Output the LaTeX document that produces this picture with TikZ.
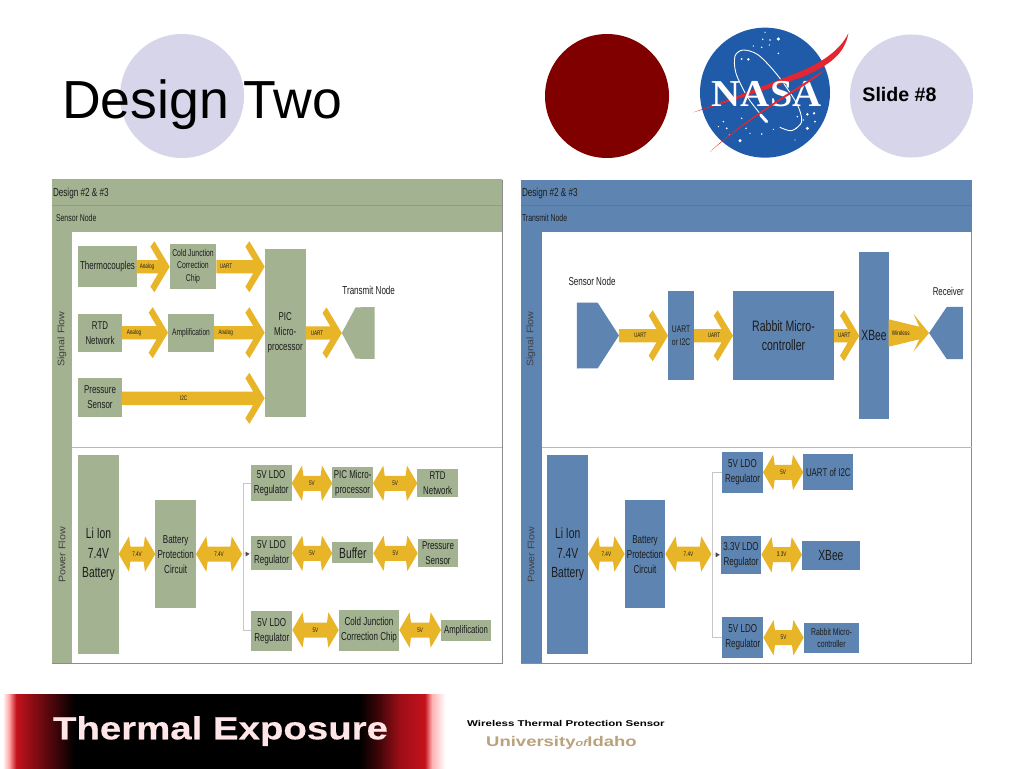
\documentclass[tikz,border=0pt]{standalone}
\usepackage{fontspec}
\usetikzlibrary{calc,arrows.meta}
\setmainfont{Liberation Sans}
\newfontfamily\nf[FakeStretch=0.70]{Liberation Sans}
\newfontfamily\wf[FakeStretch=1.12]{Liberation Sans}
\newfontfamily\bannerf[FakeStretch=1.2,BoldFeatures={FakeBold=0.4}]{Liberation Sans}
\newfontfamily\footf[FakeStretch=1.37]{Liberation Sans}
\newfontfamily\unif[FakeStretch=1.32]{Liberation Sans}
\newfontfamily\nasaf[FakeStretch=1.06]{Liberation Serif}
\definecolor{grn}{HTML}{A3B291}
\definecolor{grnd}{HTML}{8F9E7D}
\definecolor{blu}{HTML}{5E84B1}
\definecolor{blud}{HTML}{54789F}
\definecolor{gld}{HTML}{E8B529}
\definecolor{lav}{HTML}{D6D5EA}
\definecolor{mar}{HTML}{800000}
\definecolor{nasab}{HTML}{1F5BA8}
\definecolor{nasar}{HTML}{E3262F}
\definecolor{tan1}{HTML}{B9A27C}
\definecolor{txt}{HTML}{1C1C1C}
\definecolor{bred}{HTML}{C4121C}
\pgfdeclarehorizontalshading{bannershade}{100bp}{
 color(0bp)=(white); color(25.3bp)=(white); color(26.0bp)=(red!35!white);
 color(26.8bp)=(bred); color(29bp)=(bred!65!black); color(33.3bp)=(black);
 color(65bp)=(black); color(67.2bp)=(bred!35!black); color(69.4bp)=(bred!80!black);
 color(72.2bp)=(bred); color(73.0bp)=(red!30!white); color(74.5bp)=(white); color(100bp)=(white)}
\tikzset{
 cbox/.style={inner sep=0pt,outer sep=0pt,align=center,text=txt},
 sz/.code={\pgfmathsetmacro\fsk{#1*1.15}\pgfmathsetmacro\lsk{#1*1.5}\tikzset{font=\nf\fontsize{\fsk}{\lsk}\selectfont}},
 plain/.style={cbox},
 lab/.style={inner sep=0pt,text=txt,font=\nf\fontsize{6.6}{8}\selectfont},
 bus/.style={draw=black!22,line width=.6pt},
 side/.style={inner sep=0pt,text=black!75,rotate=90,font=\wf\fontsize{9.5}{11}\selectfont},
 star/.style={fill=white,draw=none},
}
% \bx{name}{colour}{x1}{y1}{x2}{y2}{font size}{text}
\newcommand\bx[8]{\node[cbox,fill=#2,sz=#7,minimum width={(#5-#3)*1pt},minimum height={(#6-#4)*1pt}] (#1) at ({(#3+#5)/2},{(#4+#6)/2}) {#8};}
% \sar{from}{to}{y}{label x}{label}
\newcommand\sar[5]{\coordinate (S) at (#1.east |- 0,#3);\coordinate (T) at (#2.west |- 0,#3);
 \fill[gld] ([yshift=6.7pt]S) -- ([xshift=-11.5pt,yshift=6.7pt]T) -- ([xshift=-19.3pt,yshift=20pt]T) -- ([xshift=-15.3pt,yshift=25.5pt]T) -- (T)
 -- ([xshift=-15.3pt,yshift=-25.5pt]T) -- ([xshift=-19.3pt,yshift=-20pt]T) -- ([xshift=-11.5pt,yshift=-6.7pt]T) -- ([yshift=-6.7pt]S) -- cycle;
 \node[lab] at (#4,#3) {#5};}
% \dar{from}{to}{y}{label}
\newcommand\dar[4]{\coordinate (S) at (#1.east |- 0,#3);\coordinate (T) at (#2.west |- 0,#3);
 \fill[gld] (S) -- ([xshift=10.3pt,yshift=17.7pt]S) -- ([xshift=11.7pt,yshift=7.5pt]S) -- ([xshift=-11.7pt,yshift=7.5pt]T) -- ([xshift=-10.3pt,yshift=17.7pt]T) -- (T)
 -- ([xshift=-10.3pt,yshift=-17.7pt]T) -- ([xshift=-11.7pt,yshift=-7.5pt]T) -- ([xshift=11.7pt,yshift=-7.5pt]S) -- ([xshift=10.3pt,yshift=-17.7pt]S) -- cycle;
 \node[lab] at ($(S)!.5!(T)$) {#4};}
\begin{document}
\begin{tikzpicture}[x=1pt,y=-1pt]
\useasboundingbox (0,0) rectangle (1024,768);
\fill[white] (0,0) rectangle (1024,768);
% title row
\node[circle,fill=lav,minimum size=124pt,inner sep=0pt] (c1) at (182,96) {};
\node[circle,fill=mar,minimum size=124pt,inner sep=0pt] (c2) at (607,96) {};
\node[circle,fill=lav,minimum size=123pt,inner sep=0pt] (c3) at (911.5,96) {};
\node[anchor=base west,inner sep=0pt,font=\fontsize{53.6}{60}\selectfont] (title) at (62,118.5) {Design Two};
\node[anchor=center,inner sep=0pt,font=\bfseries\fontsize{19.6}{22}\selectfont] (slide) at (899.5,94) {Slide \#8};
% NASA
\begin{scope}[shift={(690,20)},x=.33333pt,y=-.33333pt]
\fill[nasab] (225,218) circle (195);
\foreach \a/\b/\r in {225/37/2,218/58/2.5,240/60/2.5,265/57/5,215/82/2.5,238/75/2,265/100/2.5,155/117/3,175/118/4,190/78/2,
 352/283/4,372/280/4,340/300/2.5,375/305/3,352/325/5,322/290/2.5,318/325/2.5,100/305/2.5,85/320/2,110/325/3,155/295/2.5,168/325/2.5,
 150/362/5,118/345/2,215/342/2.5,250/328/2,315/360/2,180/340/2}
 \fill[star] (\a,\b) circle (\r);
\draw[white,line width=.9pt,line cap=round] plot[smooth] coordinates {(230,305) (175,235) (138,160) (135,108) (160,90) (205,105) (262,165) (320,250) (335,305) (305,332) (270,322)};
\draw[white,line width=3pt,line cap=round] (212,285) -- (230,305);
\fill[nasar] (10,277) .. controls (120,238) and (240,190) .. (330,155) .. controls (400,125) and (450,90) .. (475,40) .. controls (465,100) and (420,135) .. (340,170) .. controls (240,205) and (120,245) .. (10,277) -- cycle;
\node[inner sep=0pt,text=white,font=\nasaf\bfseries\fontsize{38}{40}\selectfont] (nasa) at (230,222) {NASA};
\fill[nasar] (60,395) .. controls (130,330) and (230,260) .. (325,200) .. controls (360,178) and (385,160) .. (405,150) .. controls (385,168) and (355,188) .. (325,208) .. controls (230,265) and (130,335) .. (60,395) -- cycle;
\end{scope}
% ---------- left panel
\node[draw=black!45,fill=white,line width=.6pt,minimum width=450pt,minimum height=483pt,inner sep=0pt] (pl) at (277,421.5) {};
\bx{lh1}{grn}{52}{180}{502}{205.5}{9}{}
\bx{lh2}{grn}{52}{205.5}{502}{232}{9}{}
\draw[grnd,line width=.8pt] (lh1.south west) -- (lh1.south east);
\draw[black!35,line width=.7pt] (pl.north west) -- (pl.north east);
\bx{ls}{grn}{52}{232}{72}{663}{9}{}
\draw[black!28,line width=.7pt] (ls.east |- 0,447) -- (pl.east |- 0,447);
\node[plain,anchor=west,sz=10.1] (lt1) at (53,193) {Design \#2 \& \#3};
\node[plain,anchor=west,sz=8.6] (lt2) at (56,218) {Sensor Node};
\node[side] (lsa) at (62,339) {Signal Flow};
\node[side] (lsb) at (62,555) {Power Flow};
\bx{thermo}{grn}{78.3}{246}{136.7}{287.3}{9.9}{Thermocouples}
\bx{cjc}{grn}{169.7}{244}{216.3}{288.7}{8.5}{Cold Junction\\Correction\\Chip}
\bx{pic}{grn}{264.7}{249}{305.7}{416.7}{9.9}{PIC\\Micro-\\processor}
\bx{rtd}{grn}{78.3}{313.7}{121.7}{352}{9.8}{RTD\\Network}
\bx{amp}{grn}{168}{313.7}{214}{352}{8.3}{Amplification}
\bx{press}{grn}{78.3}{378.3}{121.7}{416.7}{9.9}{Pressure\\Sensor}
\node[inner sep=0pt,minimum width=32.3pt,minimum height=51.4pt] (tx) at (358.15,333) {};
\fill[grn] (tx.west) -- (355.7,307.3) -- (tx.north east) -- (tx.south east) -- (355.7,358.7) -- cycle;
\node[plain,sz=10] (txl) at (368.7,290) {Transmit Node};
\sar{thermo}{cjc}{266.7}{147}{Analog}
\sar{cjc}{pic}{266.7}{226}{UART}
\sar{rtd}{amp}{332.7}{134}{Analog}
\sar{amp}{pic}{332.7}{225.7}{Analog}
\sar{pic}{tx}{333}{317}{UART}
\sar{press}{pic}{398.3}{183.7}{I2C}
% left power
\bx{liL}{grn}{78.3}{455}{118.7}{653.7}{12.8}{Li Ion\\7.4V\\Battery}
\bx{batL}{grn}{155.3}{500}{196}{608.3}{10}{Battery\\Protection\\Circuit}
\bx{r1L}{grn}{250.7}{465}{291.7}{500.7}{10}{5V LDO\\Regulator}
\bx{picL}{grn}{332.3}{467.3}{373}{498.3}{9.9}{PIC Micro-\\processor}
\bx{rtdL}{grn}{417.3}{469}{458}{497}{9.8}{RTD\\Network}
\bx{r2L}{grn}{251}{536}{292}{569.7}{10}{5V LDO\\Regulator}
\bx{bufL}{grn}{332.3}{542.3}{373.3}{563.3}{12.8}{Buffer}
\bx{prL}{grn}{417.7}{538.7}{458.3}{567}{9.9}{Pressure\\Sensor}
\bx{r3L}{grn}{251.3}{610.7}{292.3}{650.7}{10}{5V LDO\\Regulator}
\bx{cjL}{grn}{338.7}{610.3}{399.3}{650.7}{10}{Cold Junction\\Correction Chip}
\bx{amL}{grn}{441}{620}{491}{640.7}{9.6}{Amplification}
\dar{liL}{batL}{554}{7.4V}
\node[inner sep=0pt,minimum size=0pt] (dotL) at (242.3,554) {};
\dar{batL}{dotL}{554}{7.4V}
\coordinate (busL) at (243,554);
\draw[bus] (r1L.west) -- (busL |- r1L.west) -- (busL |- r3L.west) -- (r3L.west);
\draw[bus] (busL) -- (r2L.west);
\fill[black!70] (r2L.west |- 0,554) ++(-1.5,0) -- ++(-4,-2.5) -- ++(0,5) -- cycle;
\dar{r1L}{picL}{483.3}{5V}
\dar{picL}{rtdL}{483.3}{5V}
\dar{r2L}{bufL}{553.3}{5V}
\dar{bufL}{prL}{553.3}{5V}
\dar{r3L}{cjL}{630}{5V}
\dar{cjL}{amL}{630}{5V}
% ---------- right panel
\node[draw=black!45,fill=white,line width=.6pt,minimum width=450.7pt,minimum height=483pt,inner sep=0pt] (pr) at (746.35,421.5) {};
\bx{rh1}{blu}{521}{180}{971.7}{205.5}{9}{}
\bx{rh2}{blu}{521}{205.5}{971.7}{232}{9}{}
\draw[blud,line width=.6pt] (rh1.south west) -- (rh1.south east);
\bx{rs}{blu}{521}{232}{541.7}{663}{9}{}
\draw[black!28,line width=.7pt] (rs.east |- 0,447) -- (pr.east |- 0,447);
\node[plain,anchor=west,sz=10.1] (rt1) at (522,193) {Design \#2 \& \#3};
\node[plain,anchor=west,sz=8.6] (rt2) at (522,218) {Transmit Node};
\node[side] (rsa) at (531,339) {Signal Flow};
\node[side] (rsb) at (531,555) {Power Flow};
\node[inner sep=0pt,minimum width=41.7pt,minimum height=65.6pt] (sn) at (597.85,335.5) {};
\fill[blu] (sn.north west) -- (597.7,302.7) -- (sn.east) -- (597.7,368.3) -- (sn.south west) -- cycle;
\node[plain,sz=10] (snl) at (592,281.7) {Sensor Node};
\bx{ui}{blu}{668}{291.3}{694}{380}{8.4}{UART\\or I2C}
\bx{rab}{blu}{733}{291.3}{834}{380}{13.1}{Rabbit Micro-\\controller}
\bx{xb}{blu}{859.3}{251.7}{888.7}{419.3}{12.8}{XBee}
\node[inner sep=0pt,minimum width=33.4pt,minimum height=52pt] (rc) at (946,333) {};
\fill[blu] (rc.west) -- (946.7,307) -- (rc.north east) -- (rc.south east) -- (946.7,359) -- cycle;
\node[plain,sz=9.8] (rcl) at (948.3,291.3) {Receiver};
\sar{sn}{ui}{335.7}{640.3}{UART}
\sar{ui}{rab}{335.7}{714}{UART}
\sar{rab}{xb}{335.7}{844.3}{UART}
\fill[gld] (xb.east |- 0,319.3) -- (919.3,326.7) -- (913.5,314) -- (916.7,318) -- (rc.west) -- (916.7,347.7) -- (913.5,351.5) -- (919.3,339.3) -- (xb.east |- 0,346.7) -- cycle;
\node[lab] at (900.7,333) {Wireless};
% right power
\bx{liR}{blu}{547.3}{455}{588}{653.7}{12.8}{Li Ion\\7.4V\\Battery}
\bx{batR}{blu}{624.7}{500}{665.3}{608.3}{10}{Battery\\Protection\\Circuit}
\bx{r1R}{blu}{722}{452}{763}{492.7}{10}{5V LDO\\Regulator}
\bx{uiR}{blu}{803.3}{454.3}{853.3}{490}{9.8}{UART of I2C}
\bx{r2R}{blu}{720.7}{535.7}{761.3}{574}{10}{3.3V LDO\\Regulator}
\bx{xbR}{blu}{802}{540.7}{859.7}{570}{12.8}{XBee}
\bx{r3R}{blu}{722.3}{617.3}{763.3}{657.7}{10}{5V LDO\\Regulator}
\bx{raR}{blu}{803.7}{622.7}{859.3}{653.3}{8.5}{Rabbit Micro-\\controller}
\dar{liR}{batR}{554}{7.4V}
\node[inner sep=0pt,minimum size=0pt] (dotR) at (711.7,554) {};
\dar{batR}{dotR}{554}{7.4V}
\coordinate (busR) at (712.3,554.8);
\draw[bus] (r1R.west) -- (busR |- r1R.west) -- (busR |- r3R.west) -- (r3R.west);
\draw[bus] (busR) -- (r2R.west);
\fill[black!70] (r2R.west |- 0,554.8) ++(-1,0) -- ++(-4,-2.5) -- ++(0,5) -- cycle;
\dar{r1R}{uiR}{472.3}{5V}
\dar{r2R}{xbR}{554.7}{3.3V}
\dar{r3R}{raR}{637.7}{5V}
% ---------- footer
\shade[shading=bannershade] (0,694) rectangle (450,768);
\node[anchor=base,inner sep=0pt,text=white!90!red,font=\bannerf\bfseries\fontsize{32}{36}\selectfont] (brand) at (220.5,739.3) {Thermal Exposure};
\node[anchor=base west,inner sep=0pt,font=\footf\bfseries\fontsize{8.4}{10}\selectfont] (wts) at (467,726) {Wireless Thermal Protection Sensor};
\node[anchor=base west,inner sep=0pt,text=tan1,font=\unif\bfseries\fontsize{14}{16}\selectfont] (uni) at (486,746.7) {University{\fontsize{9.5}{10}\selectfont\itshape of}Idaho};
\end{tikzpicture}
\end{document}
